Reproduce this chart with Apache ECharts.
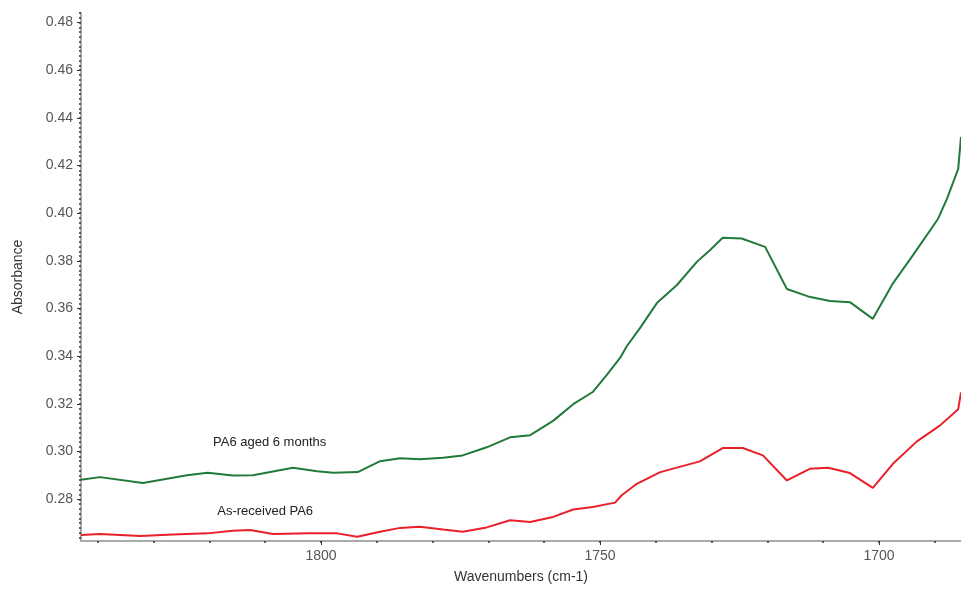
<!DOCTYPE html>
<html>
<head>
<meta charset="utf-8">
<script src="https://cdn.jsdelivr.net/npm/echarts@6/dist/echarts.min.js"></script>
<style>html,body{margin:0;padding:0;background:#fff}#c{width:961px;height:589px}</style>
</head>
<body>
<div id="c"></div>
<script>
// Data
const agedWavenumbers = [1843.0,1839.6,1831.9,1824.0,1820.3,1815.8,1812.2,1805.0,1800.7,1797.8,1793.4,1789.4,1785.8,1782.3,1778.1,1774.6,1770.3,1766.1,1762.5,1758.4,1754.8,1751.3,1748.7,1746.4,1745.2,1742.8,1739.8,1736.2,1732.6,1730.3,1728.0,1724.6,1720.4,1716.5,1712.7,1708.8,1705.2,1701.1,1697.5,1693.9,1689.4,1687.8,1685.8,1685.3];
const agedAbsorbance = [0.2882,0.2893,0.2868,0.2901,0.2911,0.2900,0.2901,0.2932,0.2918,0.2911,0.2914,0.2960,0.2972,0.2968,0.2974,0.2984,0.3018,0.3060,0.3069,0.3129,0.3199,0.3250,0.3324,0.3393,0.3442,0.3519,0.3623,0.3699,0.3797,0.3845,0.3897,0.3894,0.3859,0.3682,0.3651,0.3632,0.3627,0.3557,0.3706,0.3824,0.3977,0.4061,0.4186,0.4320];
const receivedWavenumbers = [1843.0,1839.6,1832.4,1826.5,1820.4,1815.8,1812.7,1808.6,1802.0,1797.1,1793.5,1789.4,1785.8,1782.3,1778.1,1774.6,1770.3,1766.1,1762.5,1758.4,1754.8,1751.3,1747.3,1746.1,1743.4,1739.2,1732.1,1728.0,1724.4,1720.8,1716.5,1712.4,1709.1,1705.2,1701.1,1697.5,1693.2,1689.1,1685.8,1685.3];
const receivedAbsorbance = [0.2650,0.2654,0.2646,0.2652,0.2657,0.2668,0.2671,0.2654,0.2657,0.2657,0.2643,0.2664,0.2680,0.2685,0.2673,0.2664,0.2682,0.2712,0.2705,0.2726,0.2757,0.2768,0.2786,0.2817,0.2865,0.2914,0.2959,0.3015,0.3015,0.2984,0.2879,0.2928,0.2932,0.2910,0.2848,0.2949,0.3043,0.3109,0.3178,0.3248];
const seriesNames = ['PA6 aged 6 months','As-received PA6'];
const labelWavenumbers = [1809.2, 1810.0];
const labelAbsorbance = [0.3039, 0.2750];
const xTickLabels = [1800, 1750, 1700];
const xMinorTicks = [1840,1830,1820,1810,1800,1790,1780,1770,1760,1750,1740,1730,1720,1710,1700,1690];
const yTickLabels = [0.28,0.30,0.32,0.34,0.36,0.38,0.40,0.42,0.44,0.46,0.48];

const xMin = 1685.3, xMax = 1843.0, yMin = 0.2625, yMax = 0.484;
const yMinorTicks = [];
for (let i = 132; i <= 242; i++) yMinorTicks.push(+(i * 0.002).toFixed(3));

function pairs(xs, ys){ return xs.map((x,i)=>[x, ys[i]]); }

const FONT = 'Liberation Sans, Arial, sans-serif';
const chart = echarts.init(document.getElementById('c'), null, {renderer:'canvas'});
chart.setOption({
  animation: false,
  backgroundColor: '#ffffff',
  grid: {left: 81, right: 0, top: 13, bottom: 45},
  xAxis: [{
    type: 'value', inverse: true, min: xMin, max: xMax,
    name: 'Wavenumbers (cm-1)', nameLocation: 'middle', nameGap: 29,
    nameTextStyle: {color: '#333', fontSize: 14, fontFamily: FONT},
    axisLine: {show: true, onZero: false, lineStyle: {color: '#aaaaaa', width: 2}},
    axisTick: {show: true, customValues: xTickLabels, length: 4, lineStyle: {color: '#333', width: 1}},
    axisLabel: {customValues: xTickLabels, color: '#555', fontSize: 14, fontFamily: FONT, margin: 8,
      formatter: v => String(Math.round(v))},
    splitLine: {show: false}
  }, {
    type: 'value', inverse: true, min: xMin, max: xMax, position: 'bottom',
    axisLine: {show: false, onZero: false},
    axisTick: {show: true, customValues: xMinorTicks, length: 2, lineStyle: {color: '#333', width: 1.5}},
    axisLabel: {show: false},
    splitLine: {show: false}
  }],
  yAxis: [{
    type: 'value', min: yMin, max: yMax,
    name: 'Absorbance', nameLocation: 'middle', nameGap: 56, nameRotate: 90,
    nameTextStyle: {color: '#333', fontSize: 14, fontFamily: FONT},
    axisLine: {show: true, onZero: false, lineStyle: {color: '#aaaaaa', width: 2}},
    axisTick: {show: true, customValues: yTickLabels, length: 4, lineStyle: {color: '#333', width: 1}},
    axisLabel: {customValues: yTickLabels, color: '#555', fontSize: 14, fontFamily: FONT, margin: 8,
      formatter: v => v.toFixed(2)},
    splitLine: {show: false}
  }, {
    type: 'value', min: yMin, max: yMax, position: 'left',
    axisLine: {show: false, onZero: false},
    axisTick: {show: true, customValues: yMinorTicks, length: 2, lineStyle: {color: '#333', width: 1.5}},
    axisLabel: {show: false},
    splitLine: {show: false}
  }],
  series: [{
    name: seriesNames[0], type: 'line', xAxisIndex: 0, yAxisIndex: 0,
    data: pairs(agedWavenumbers, agedAbsorbance),
    showSymbol: false, symbol: 'none',
    lineStyle: {color: '#217a3a', width: 2},
    markPoint: {
      symbol: 'circle', symbolSize: 0,
      label: {show: true, position: 'inside', color: '#222', fontSize: 13, fontFamily: FONT, formatter: seriesNames[0]},
      data: [{coord: [labelWavenumbers[0], labelAbsorbance[0]]}]
    }
  }, {
    name: seriesNames[1], type: 'line', xAxisIndex: 0, yAxisIndex: 0,
    data: pairs(receivedWavenumbers, receivedAbsorbance),
    showSymbol: false, symbol: 'none',
    lineStyle: {color: '#e8202a', width: 2},
    markPoint: {
      symbol: 'circle', symbolSize: 0,
      label: {show: true, position: 'inside', color: '#222', fontSize: 13, fontFamily: FONT, formatter: seriesNames[1]},
      data: [{coord: [labelWavenumbers[1], labelAbsorbance[1]]}]
    }
  }]
});
</script>
</body>
</html>
